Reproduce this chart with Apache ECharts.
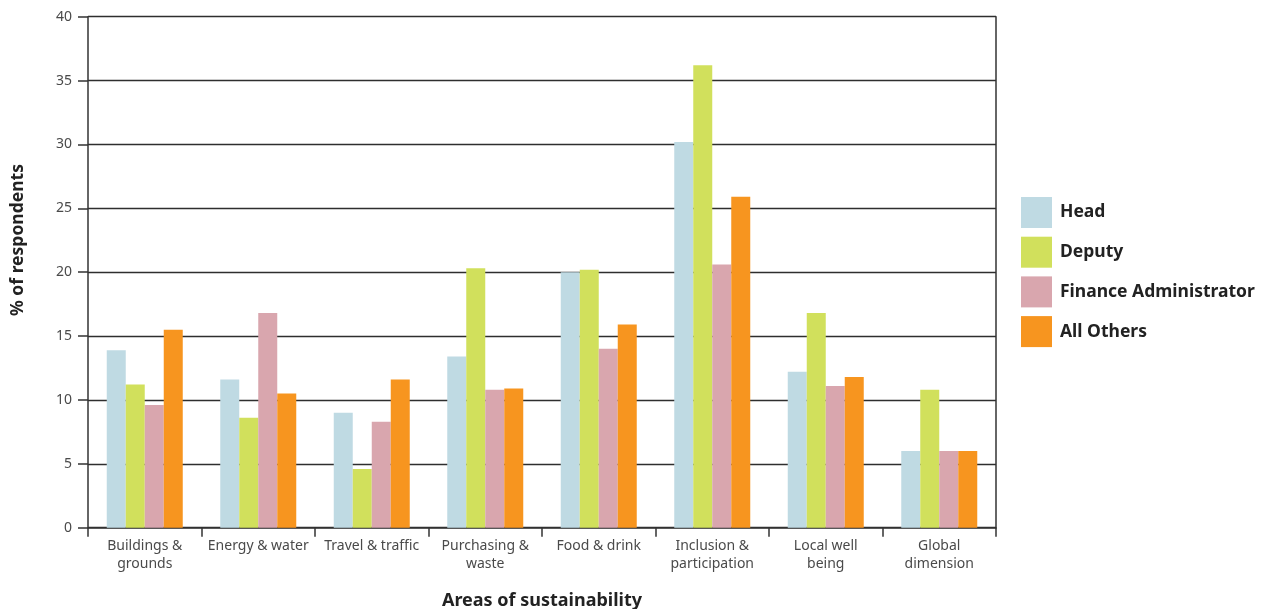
<!DOCTYPE html>
<html>
<head>
<meta charset="utf-8">
<title>Areas of sustainability</title>
<script src="https://cdn.jsdelivr.net/npm/echarts@6/dist/echarts.min.js"></script>
<style>
  html, body { margin: 0; padding: 0; background: #ffffff; }
  #chart { width: 1269px; height: 609px; }
</style>
</head>
<body>
<div id="chart"></div>
<script>
// Areas of sustainability (x axis categories)
const categories = [
  'Buildings &\ngrounds',
  'Energy & water',
  'Travel & traffic',
  'Purchasing &\nwaste',
  'Food & drink',
  'Inclusion &\nparticipation',
  'Local well\nbeing',
  'Global\ndimension'
];

// % of respondents per role
const head         = [13.9, 11.6, 9.0, 13.4, 20.0, 30.2, 12.2, 6.0];
const deputy       = [11.2, 8.6, 4.6, 20.3, 20.2, 36.2, 16.8, 10.8];
const financeAdmin = [9.6, 16.8, 8.3, 10.8, 14.0, 20.6, 11.1, 6.0];
const allOthers    = [15.5, 10.5, 11.6, 10.9, 15.9, 25.9, 11.8, 6.0];

const seriesNames = ['Head', 'Deputy', 'Finance Administrator', 'All Others'];
const seriesColors = ['#bfdae3', '#d1e05c', '#d9a6ae', '#f7951f'];
const seriesData = [head, deputy, financeAdmin, allOthers];

const FONT = '"Noto Sans", "Open Sans", sans-serif';

const chart = echarts.init(document.getElementById('chart'), null, { renderer: 'canvas' });

chart.setOption({
  animation: false,
  backgroundColor: '#ffffff',
  grid: { left: 88, right: 273, top: 16.7, bottom: 81.3, containLabel: false },
  legend: {
    orient: 'vertical',
    left: 1016,
    top: 192,
    itemWidth: 31,
    itemHeight: 31,
    itemGap: 8.7,
    icon: 'rect',
    data: seriesNames,
    textStyle: { fontFamily: FONT, fontWeight: 'bold', fontSize: 17.5, color: '#222222', padding: [0, 0, 0, 3] }
  },
  xAxis: {
    type: 'category',
    data: categories,
    boundaryGap: true,
    axisLine: { show: true, lineStyle: { color: '#333333', width: 1.5 } },
    axisTick: { show: true, length: 9, interval: 0, lineStyle: { color: '#333333', width: 1.5 } },
    axisLabel: {
      interval: 0,
      margin: 9,
      fontFamily: FONT,
      fontSize: 14,
      color: '#4a4a4a',
      lineHeight: 18
    },
    splitLine: { show: false }
  },
  yAxis: [
    {
      type: 'value',
      min: 0,
      max: 40,
      interval: 5,
      axisLine: { show: true, lineStyle: { color: '#333333', width: 1.5 } },
      axisTick: { show: true, length: 10, lineStyle: { color: '#333333', width: 1.5 } },
      axisLabel: { margin: 16, fontFamily: FONT, fontSize: 14, color: '#4a4a4a' },
      splitLine: { show: true, lineStyle: { color: '#2e2e2e', width: 1.4 } }
    },
    {
      type: 'value',
      position: 'right',
      min: 0,
      max: 40,
      interval: 5,
      axisLine: { show: true, lineStyle: { color: '#333333', width: 1.5 } },
      axisTick: { show: false },
      axisLabel: { show: false },
      splitLine: { show: false }
    }
  ],
  graphic: [
    {
      type: 'text',
      x: 18,
      y: 240,
      rotation: Math.PI / 2,
      style: {
        text: '% of respondents',
        fontFamily: FONT,
        fontWeight: 'bold',
        fontSize: 17.5,
        fill: '#222222',
        align: 'center',
        verticalAlign: 'middle'
      }
    },
    {
      type: 'text',
      x: 542,
      y: 601,
      style: {
        text: 'Areas of sustainability',
        fontFamily: FONT,
        fontWeight: 'bold',
        fontSize: 18,
        fill: '#222222',
        align: 'center',
        verticalAlign: 'middle'
      }
    }
  ],
  series: seriesNames.map((name, i) => ({
    name: name,
    type: 'bar',
    data: seriesData[i],
    barWidth: 19,
    barGap: '0%',
    barCategoryGap: '33%',
    itemStyle: { color: seriesColors[i] },
    z: 3
  }))
});
</script>
</body>
</html>
